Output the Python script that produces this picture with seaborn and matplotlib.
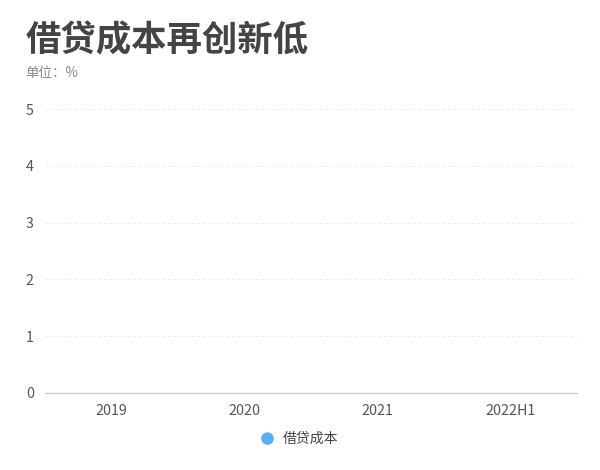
import numpy as np
import pandas as pd
import matplotlib
matplotlib.use("Agg")
import matplotlib.pyplot as plt
from matplotlib.lines import Line2D
import seaborn as sns

# -----------------------------
# DATA (series marks are not visible in the reference)
# -----------------------------
categories = ["2019", "2020", "2021", "2022H1"]
borrow_cost = [np.nan, np.nan, np.nan, np.nan]
y_ticks = [0, 1, 2, 3, 4, 5]

df = pd.DataFrame({"period": categories, "cost": borrow_cost})

sns.set_theme(style="white")
plt.rcParams["font.family"] = ["Noto Sans CJK SC", "DejaVu Sans"]

fig = plt.figure(figsize=(6, 4.7), dpi=100)
ax = fig.add_axes([0.075, 0.164, 0.887, 0.604])

sns.lineplot(data=df, x="period", y="cost", ax=ax, color="#59aef3", legend=False)

ax.set_xlim(-0.5, len(categories) - 0.5)
ax.set_ylim(0, 5)
ax.set_yticks(y_ticks)
ax.set_xticks(range(len(categories)))
ax.set_xticklabels(categories)
ax.set_xlabel("")
ax.set_ylabel("")

ax.grid(axis="y", color="#ececec", linestyle=(0, (3, 3)), linewidth=0.7)
ax.grid(axis="x", visible=False)
for s in ["top", "right", "left"]:
    ax.spines[s].set_visible(False)
ax.spines["bottom"].set_color("#cccccc")
ax.spines["bottom"].set_linewidth(1)

ax.tick_params(axis="x", colors="#555555", labelsize=10.3, length=4, width=0.8,
               direction="out", pad=4)
ax.tick_params(axis="x", color="#cccccc")
ax.tick_params(axis="y", colors="#555555", labelsize=10.3, length=0, pad=8)

fig.text(0.042, 0.913, "借贷成本再创新低", fontsize=25.5, fontweight="bold",
         color="#444444", va="center", ha="left")
fig.text(0.042, 0.845, "单位：%", fontsize=9.7, color="#888888",
         va="center", ha="left")

handle = Line2D([], [], marker="o", linestyle="", markersize=8,
                markerfacecolor="#59aef3", markeredgecolor="#59aef3")
fig.legend([handle], ["借贷成本"], loc="center", bbox_to_anchor=(0.493, 0.066),
           frameon=False, fontsize=10, handletextpad=0.1, labelcolor="#444444")

fig.savefig("out.png", dpi=100, facecolor="white")
plt.close(fig)
